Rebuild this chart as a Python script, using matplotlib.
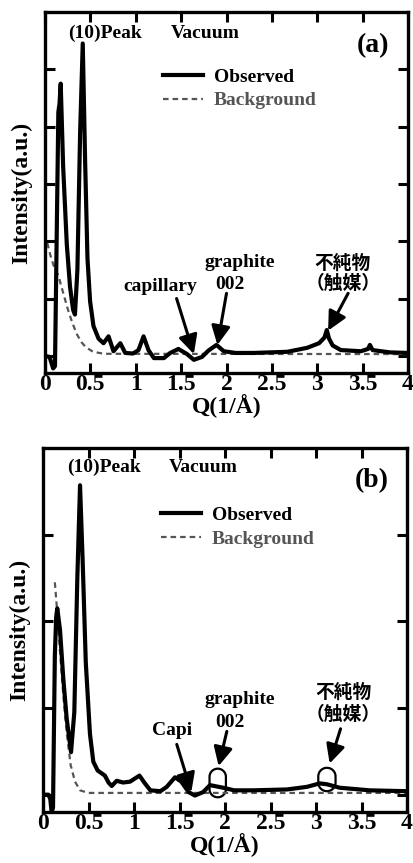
import numpy as np
import matplotlib
matplotlib.use("Agg")
import matplotlib.pyplot as plt
from matplotlib.path import Path
from matplotlib.patches import PathPatch

plt.rcParams['font.family'] = ['Liberation Serif', 'DejaVu Serif']
plt.rcParams['font.weight'] = 'bold'
plt.rcParams['axes.labelweight'] = 'bold'

JP = ['Noto Sans CJK JP', 'DejaVu Sans']

# (a) measured profile and background
q_obs_a = [0.0, 0.05, 0.09, 0.11, 0.147, 0.16, 0.173, 0.2, 0.24, 0.276, 0.31, 0.33,
           0.357, 0.387, 0.416, 0.442, 0.468, 0.497, 0.534, 0.59, 0.645, 0.70, 0.755,
           0.83, 0.884, 0.97, 1.03, 1.086, 1.14, 1.2, 1.31, 1.38, 1.47, 1.565, 1.64,
           1.73, 1.8, 1.89, 1.97, 2.1, 2.3, 2.67, 2.89, 3.02, 3.08, 3.105, 3.13, 3.17,
           3.26, 3.48, 3.56, 3.58, 3.61, 3.8, 4.0]
i_obs_a = [0.0, -0.02, -0.22, -0.18, 4.25, 4.4, 4.75, 3.3, 1.95, 1.2, 0.8, 0.72,
           1.5, 3.9, 5.45, 3.4, 1.7, 0.95, 0.52, 0.3, 0.22, 0.34, 0.08,
           0.22, 0.05, 0.04, 0.1, 0.34, 0.1, -0.04, -0.04, 0.05, 0.12, 0.03, -0.07,
           -0.02, 0.09, 0.19, 0.08, 0.05, 0.05, 0.07, 0.14, 0.22, 0.32, 0.45, 0.3, 0.18,
           0.1, 0.08, 0.12, 0.19, 0.1, 0.06, 0.05]
q_bg_a = [0.025, 0.06, 0.1, 0.147, 0.2, 0.25, 0.3, 0.35, 0.4, 0.45, 0.53, 0.65, 4.0]
i_bg_a = [1.97, 1.75, 1.55, 1.4, 1.1, 0.82, 0.58, 0.38, 0.24, 0.15, 0.07, 0.035, 0.03]

# (b) measured profile and background
q_obs_b = [0.0, 0.06, 0.08, 0.095, 0.11, 0.13, 0.145, 0.157, 0.187, 0.223, 0.26, 0.308,
           0.344, 0.377, 0.407, 0.436, 0.47, 0.516, 0.553, 0.6, 0.626, 0.68, 0.72,
           0.755, 0.81, 0.88, 0.956, 1.06, 1.12, 1.18, 1.29, 1.36, 1.45, 1.52, 1.6,
           1.67, 1.76, 1.835, 1.98, 2.1, 2.31, 2.68, 2.9, 3.04, 3.12, 3.26, 3.59, 4.0]
i_obs_b = [0.0, 0.0, -0.05, -0.2, -0.15, 1.6, 2.05, 2.15, 1.9, 1.34, 0.88, 0.49,
           0.95, 2.49, 3.57, 2.69, 1.53, 0.7, 0.38, 0.28, 0.26, 0.22, 0.14,
           0.1, 0.16, 0.14, 0.15, 0.22, 0.13, 0.05, 0.04, 0.09, 0.2, 0.15, 0.03,
           -0.01, 0.03, 0.11, 0.08, 0.05, 0.05, 0.06, 0.09, 0.13, 0.12, 0.08, 0.05, 0.04]
q_bg_b = [0.13, 0.157, 0.187, 0.223, 0.26, 0.304, 0.352, 0.407, 0.5, 4.0]
i_bg_b = [2.45, 2.1, 1.65, 1.15, 0.72, 0.34, 0.15, 0.05, 0.02, 0.02]

xticks = [0, 0.5, 1, 1.5, 2, 2.5, 3, 3.5, 4]
xticklabels = ['0', '0.5', '1', '1.5', '2', '2.5', '3', '3.5', '4']

W, H = 413, 863
fig = plt.figure(figsize=(W / 100, H / 100), dpi=100)
ax_a = fig.add_axes([45 / W, 1 - 373 / H, 363 / W, 361 / H])
ax_b = fig.add_axes([43 / W, 1 - 812 / H, 364 / W, 364 / H])


def setup(ax, ylim, yticks):
    ax.set_xlim(0, 4)
    ax.set_ylim(*ylim)
    ax.set_xticks(xticks)
    ax.set_xticklabels(xticklabels, fontsize=17)
    ax.set_yticks(yticks)
    ax.set_yticklabels([])
    ax.tick_params(direction='in', length=7, width=2.2, top=True, right=True, pad=1)
    for s in ax.spines.values():
        s.set_linewidth(2.4)
    ax.set_xlabel('Q(1/Å)', fontsize=17, labelpad=-1)
    ax.set_ylabel('Intensity(a.u.)', fontsize=17, labelpad=8)


def arrow(ax, tail, tip):
    ax.annotate('', xy=tip, xytext=tail,
                arrowprops=dict(arrowstyle='-|>,head_length=0.6,head_width=0.3',
                                lw=2.2, color='k', shrinkA=0, shrinkB=0,
                                mutation_scale=19))


def capsule(ax, xc, ybot, ytop, w):
    # rounded outline, circular ends in screen space
    bb = ax.get_position()
    xr = ax.get_xlim()[1] - ax.get_xlim()[0]
    yr = ax.get_ylim()[1] - ax.get_ylim()[0]
    px_x = bb.width * W / xr
    px_y = bb.height * H / yr
    rx = w / 2
    ry = rx * px_x / px_y
    t1 = np.linspace(0, np.pi, 30)
    t2 = np.linspace(np.pi, 2 * np.pi, 30)
    top = np.c_[xc + rx * np.cos(t1), ytop - ry + ry * np.sin(t1)]
    bot = np.c_[xc + rx * np.cos(t2), ybot + ry + ry * np.sin(t2)]
    verts = np.vstack([top, bot, top[:1]])
    ax.add_patch(PathPatch(Path(verts), fill=False, lw=1.6, color='k'))


for ax, q, i, qb, ib, ylim, yt, ly in [
        (ax_a, q_obs_a, i_obs_a, q_bg_a, i_bg_a, (-0.3, 6.0), [0, 1, 2, 3, 4, 5], 0.845),
        (ax_b, q_obs_b, i_obs_b, q_bg_b, i_bg_b, (-0.2, 4.0), [0, 1, 2, 3], 0.84)]:
    setup(ax, ylim, yt)
    ax.plot(qb, ib, color='#555555', lw=1.6, ls=(0, (2.5, 1.8)), label='Background', zorder=2)
    ax.plot(q, i, color='k', lw=3.0, label='Observed', solid_joinstyle='round', zorder=3)
    h, l = ax.get_legend_handles_labels()
    leg = ax.legend(h[::-1], l[::-1], loc='upper left', frameon=False, fontsize=14,
                    handlelength=2.05, handletextpad=0.55, labelspacing=0.32,
                    borderpad=0, borderaxespad=0, bbox_to_anchor=(0.325, ly))
    leg.get_texts()[1].set_color('#555555')

# annotations (a)
ax_a.text(0.66, 5.63, '(10)Peak', fontsize=14, ha='center', va='center')
ax_a.text(1.77, 5.63, 'Vacuum', fontsize=14, ha='center', va='center')
ax_a.text(3.61, 5.42, '(a)', fontsize=20, ha='center', va='center')
ax_a.text(1.27, 1.21, 'capillary', fontsize=14, ha='center', va='center')
arrow(ax_a, (1.45, 1.0), (1.64, 0.03))
ax_a.text(2.15, 1.63, 'graphite', fontsize=14, ha='center', va='center')
ax_a.text(2.04, 1.24, '002', fontsize=14, ha='center', va='center')
arrow(ax_a, (2.0, 1.09), (1.9, 0.19))
ax_a.text(3.28, 1.62, '不純物', fontsize=13.5, ha='center', va='center', family=JP)
ax_a.text(3.28, 1.26, '（触媒）', fontsize=13.5, ha='center', va='center', family=JP)
arrow(ax_a, (3.34, 1.09), (3.12, 0.44))

# annotations (b)
ax_b.text(0.665, 3.78, '(10)Peak', fontsize=14, ha='center', va='center')
ax_b.text(1.76, 3.78, 'Vacuum', fontsize=14, ha='center', va='center')
ax_b.text(3.61, 3.62, '(b)', fontsize=20, ha='center', va='center')
ax_b.text(1.415, 0.74, 'Capi', fontsize=14, ha='center', va='center')
arrow(ax_b, (1.47, 0.58), (1.63, 0.03))
ax_b.text(2.16, 1.10, 'graphite', fontsize=14, ha='center', va='center')
ax_b.text(2.05, 0.83, '002', fontsize=14, ha='center', va='center')
arrow(ax_b, (2.02, 0.73), (1.93, 0.33))
ax_b.text(3.30, 1.18, '不純物', fontsize=13.5, ha='center', va='center', family=JP)
ax_b.text(3.30, 0.93, '（触媒）', fontsize=13.5, ha='center', va='center', family=JP)
arrow(ax_b, (3.27, 0.76), (3.15, 0.36))
capsule(ax_b, 1.92, -0.03, 0.30, 0.18)
capsule(ax_b, 3.12, 0.04, 0.31, 0.19)

fig.savefig('out.png', dpi=100)
